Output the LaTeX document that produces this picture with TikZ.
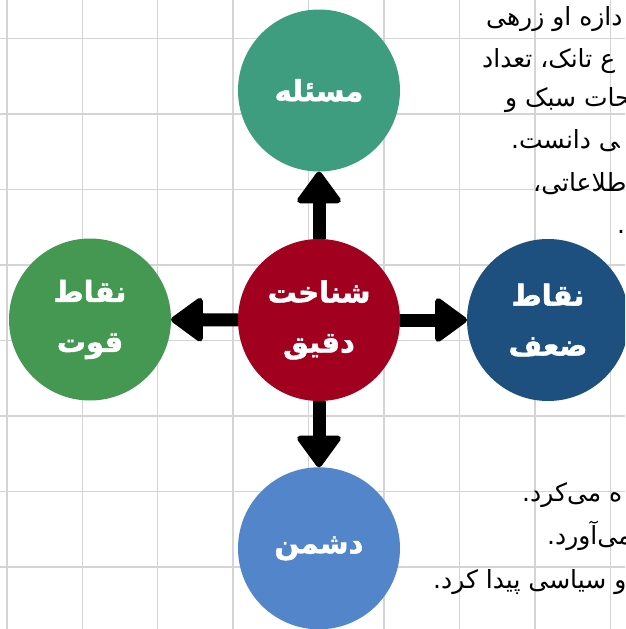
\documentclass[tikz,border=0pt]{standalone}
\usepackage{fontspec}
\usetikzlibrary{arrows.meta,backgrounds}
\TeXXeTstate=1
\newfontfamily\arabicfont[Script=Arabic]{DejaVu Sans}
\newfontfamily\arabicbold[Script=Arabic,FakeBold=1.6]{DejaVu Sans Bold}
\definecolor{cteal}{HTML}{3F9D7F}
\definecolor{cgreen}{HTML}{449851}
\definecolor{cred}{HTML}{A1001F}
\definecolor{cnavy}{HTML}{1D4F7F}
\definecolor{cblue}{HTML}{5285C9}
\definecolor{gridgray}{HTML}{D4D4D4}
\tikzset{
  bubble/.style={circle, minimum size=162pt, inner sep=0pt, outer sep=0pt, text=white,
    align=center, font=\arabicbold\fontsize{29}{50}\selectfont},
  bigarrow/.style={line width=13pt, -{Triangle[length=34pt, width=48pt, round, line width=6pt]}},
  bodytext/.style={anchor=base west, inner sep=0pt, font=\arabicfont\fontsize{25}{30}\selectfont},
  gridline/.style={draw=gridgray, line width=1.4pt}
}
\begin{document}
\begin{tikzpicture}[x=1pt,y=-1pt]
\clip (0,0) rectangle (625,629);
\fill[white] (0,0) rectangle (625,629);
% grid
\foreach \i in {0,...,8} { \draw[gridline] (6.8+75.45*\i,0) -- (6.8+75.45*\i,629); }
\foreach \j in {0,...,7} { \draw[gridline] (0,38.3+75.5*\j) -- (625,38.3+75.5*\j); }
% background text
\node[bodytext] (t1) at (486,25) {\beginR دازه او زرهی\endR};
\node[bodytext] (t2) at (482,67) {\beginR ع تانک، تعداد\endR};
\node[bodytext] (t3) at (505,106) {\beginR ‍حات سبک و\endR};
\node[bodytext] (t4) at (511,148) {\beginR ‍ی دانست.\endR};
\node[bodytext] (t5) at (533,191) {\beginR اطلاعاتی،\endR};
\node[bodytext] (t6) at (617,233) {.};
\node[bodytext] (b1) at (522,501) {\beginR ه می‌کرد.\endR};
\node[bodytext] (b2) at (547,544) {\beginR می‌آورد.\endR};
\node[bodytext] (b3) at (433,588) {\beginR و سیاسی پیدا کرد.\endR};
% circles
\node[bubble, fill=cred] (c) at (319,320) {\beginR شناخت\endR\\\beginR دقیق\endR};
\node[bubble, fill=cteal] (top) at (319,90.5) {\beginR مسئله\endR};
\node[bubble, fill=cgreen] (left) at (90,319.5) {\beginR نقاط\endR\\\beginR قوت\endR};
\node[bubble, fill=cnavy] (right) at (548,320) {\beginR نقاط\endR\\\beginR ضعف\endR};
\node[bubble, fill=cblue] (bottom) at (319,548.3) {\beginR دشمن\endR};
% arrows
\draw[bigarrow] (c) -- (top);
\draw[bigarrow] (c) -- (left);
\draw[bigarrow] (c) -- (right);
\draw[bigarrow] (c) -- (bottom);
\end{tikzpicture}
\end{document}
